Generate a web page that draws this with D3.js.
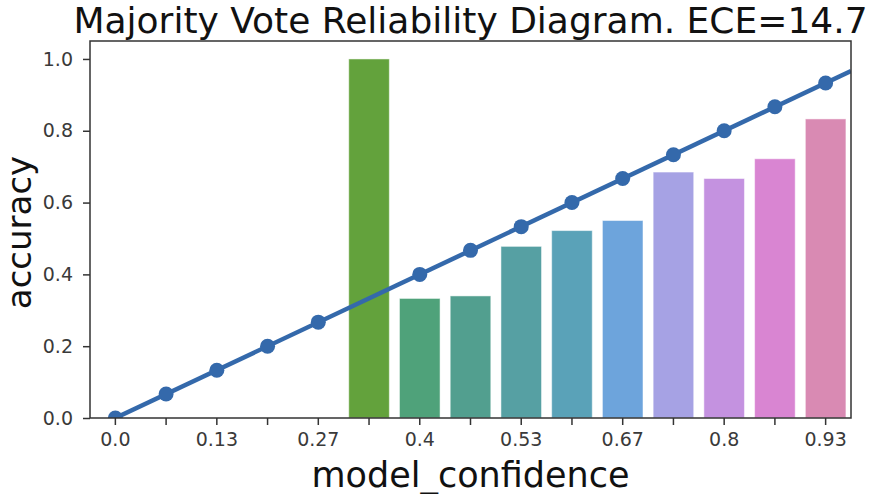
<html>
<head>
<script src="https://d3js.org/d3.v7.min.js"></script>
<style>
  body { margin: 0; background: #fff; }
  text { font-family: "DejaVu Sans", sans-serif; }
</style>
</head>
<body>
<script>
// bins of model confidence (15 bins), label shown every other one
var bins = ["0.0","0.07","0.13","0.2","0.27","0.33","0.4","0.47","0.53","0.6","0.67","0.73","0.8","0.87","0.93"];
var tickLabels = ["0.0","0.13","0.27","0.4","0.53","0.67","0.8","0.93"];
// accuracy per bin (empty bins = null)
var accuracy = [null,null,null,null,null,1.0,0.333,0.34,0.478,0.522,0.55,0.685,0.667,0.722,0.833];
// confidence of each bin (the diagonal)
var confidence = [0,0.067,0.133,0.2,0.267,0.333,0.4,0.467,0.533,0.6,0.667,0.733,0.8,0.867,0.933];
// markers drawn on the diagonal (none at the 0.33 bin)
var markers = [0,0.067,0.133,0.2,0.267,null,0.4,0.467,0.533,0.6,0.667,0.733,0.8,0.867,0.933];
var yTicks = [0,0.2,0.4,0.6,0.8,1.0];

var colors = ["#e27a83","#d8884f","#b99a3c","#9fa23c","#7fa63c","#63a23c","#4fa27a","#529f8f",
              "#56a0a3","#5aa2b8","#6da4dc","#a6a2e4","#c492e0","#d985d2","#d98ab3"];

var W = 878, H = 494;
var mLeft = 90, mRight = 851, mTop = 41, mBottom = 418;

var svg = d3.select("body").append("svg")
  .attr("width", W).attr("height", H);

var x = d3.scaleBand()
  .domain(bins)
  .range([mLeft, mRight])
  .paddingInner(0.2)
  .paddingOuter(0.1);

var y = d3.scaleLinear()
  .domain([0, 1.05])
  .range([mBottom, mTop]);

// center of a bin on the x axis
var xc = function(i){ return x(bins[i]) + x.bandwidth()/2; };
var xConf = d3.scaleLinear().domain([confidence[0], confidence[14]]).range([xc(0), xc(14)]);

svg.append("defs").append("clipPath").attr("id","clip")
  .append("rect").attr("x", mLeft).attr("y", mTop)
  .attr("width", mRight-mLeft).attr("height", mBottom-mTop);

// bars
var barData = bins.map(function(b,i){ return {b:b, v:accuracy[i], c:colors[i]}; })
  .filter(function(d){ return d.v !== null; });

svg.selectAll(".bar")
  .data(barData)
  .enter()
  .append("rect")
  .attr("class","bar")
  .attr("x", d => x(d.b))
  .attr("width", x.bandwidth())
  .attr("y", d => y(d.v))
  .attr("height", d => y(0) - y(d.v))
  .attr("fill", d => d.c)
  .attr("stroke", "#ffffff")
  .attr("stroke-opacity", 0.5)
  .attr("stroke-width", 1);

// diagonal (perfect calibration), across the whole axis width
var g = svg.append("g").attr("clip-path","url(#clip)");
var c0 = xConf.invert(mLeft), c1 = xConf.invert(mRight);
g.append("path")
  .datum([c0, c1])
  .attr("d", d3.line().x(d => xConf(d)).y(d => y(d)))
  .attr("stroke", "#3469ab")
  .attr("stroke-width", 4.5)
  .attr("fill", "none");

g.selectAll(".pt")
  .data(markers.map((v,i) => ({v:v, i:i})).filter(d => d.v !== null))
  .enter()
  .append("circle")
  .attr("class","pt")
  .attr("cx", d => xc(d.i))
  .attr("cy", d => y(d.v))
  .attr("r", 7.5)
  .attr("fill", "#3469ab");

// spines
svg.append("rect")
  .attr("x", mLeft).attr("y", mTop)
  .attr("width", mRight-mLeft).attr("height", mBottom-mTop)
  .attr("fill","none").attr("stroke","#333").attr("stroke-width",1.5);

// x axis
var xAxis = svg.append("g")
  .attr("transform","translate(0,"+mBottom+")")
  .call(d3.axisBottom(x).tickSize(7).tickPadding(8)
    .tickFormat(d => tickLabels.indexOf(d) >= 0 ? d : ""));
// y axis
var yAxis = svg.append("g")
  .attr("transform","translate("+mLeft+",0)")
  .call(d3.axisLeft(y).tickValues(yTicks).tickSize(7).tickPadding(10)
    .tickFormat(d3.format(".1f")));

[xAxis, yAxis].forEach(function(a){
  a.select(".domain").remove();
  a.selectAll("line").attr("stroke","#333").attr("stroke-width",1.5);
  a.selectAll("text").attr("font-size",19).attr("fill","#3a3a3a")
    .style("font-family","DejaVu Sans");
});

// title and labels
svg.append("text")
  .attr("x", (mLeft+mRight)/2).attr("y", 33)
  .attr("text-anchor","middle")
  .attr("font-size", 36)
  .attr("fill","#111")
  .text("Majority Vote Reliability Diagram. ECE=14.7");

svg.append("text")
  .attr("x", (mLeft+mRight)/2).attr("y", 487)
  .attr("text-anchor","middle")
  .attr("font-size", 35)
  .attr("fill","#111")
  .text("model_confidence");

svg.append("text")
  .attr("transform","translate(31,"+((mTop+mBottom)/2+3)+") rotate(-90)")
  .attr("text-anchor","middle")
  .attr("font-size", 34)
  .attr("fill","#111")
  .text("accuracy");
</script>
</body>
</html>
